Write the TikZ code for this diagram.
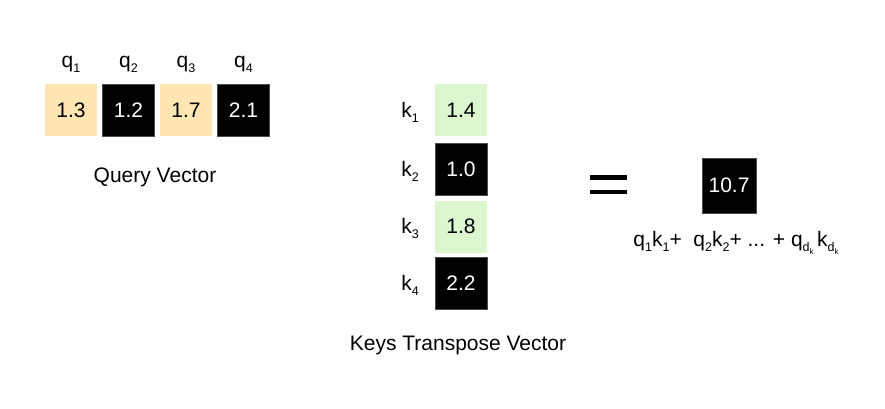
\documentclass[tikz,border=0pt]{standalone}
\usepackage{fontspec}
\setmainfont{Liberation Sans}
\definecolor{peach}{HTML}{FFE6B3}
\definecolor{mint}{HTML}{DCF7D0}
\newcommand{\sbs}[1]{\raisebox{-0.45ex}{\fontsize{12.5}{12.5}\selectfont #1}}
\newcommand{\ssbs}[1]{\raisebox{-0.35ex}{\fontsize{8}{8}\selectfont #1}}
\tikzset{
  cell/.style={minimum width=52pt, minimum height=52pt, inner sep=0pt, font=\fontsize{21}{21}\selectfont},
  pcell/.style={cell, fill=peach},
  gcell/.style={cell, fill=mint},
  bcell/.style={cell, fill=black, draw=black!70, line width=0.6pt, text=white},
  lab/.style={font=\fontsize{21}{21}\selectfont, inner sep=0pt},
}
\begin{document}
\begin{tikzpicture}[x=1pt,y=-1pt]
\useasboundingbox (0,0) rectangle (885,408);
% query vector
\node[pcell] (q1) at (71,110) {1.3};
\node[bcell] (q2) at (128.5,110) {1.2};
\node[pcell] (q3) at (186,110) {1.7};
\node[bcell] (q4) at (243.5,110) {2.1};
\node[lab] (lq1) at (71,64) {q\sbs{1}};
\node[lab] (lq2) at (128.5,64) {q\sbs{2}};
\node[lab] (lq3) at (186,64) {q\sbs{3}};
\node[lab] (lq4) at (243.5,64) {q\sbs{4}};
\node[lab] (qv) at (155,177) {Query Vector};
% keys
\node[gcell] (k1) at (461,110) {1.4};
\node[bcell] (k2) at (461,169.5) {1.0};
\node[gcell] (k3) at (461,226.5) {1.8};
\node[bcell] (k4) at (461,283.5) {2.2};
\node[lab] (lk1) at (410,112) {k\sbs{1}};
\node[lab] (lk2) at (410,171) {k\sbs{2}};
\node[lab] (lk3) at (410,228) {k\sbs{3}};
\node[lab] (lk4) at (410,285) {k\sbs{4}};
\node[lab] (kv) at (458,345) {Keys Transpose Vector};
% equals
\fill (590,175) rectangle (627,179.5);
\fill (590,189.5) rectangle (627,194);
% result
\node[bcell, minimum width=54pt, minimum height=55pt] (r) at (729,185.5) {10.7};
\node[lab] (f) at (736,243) {q\sbs{1}k\sbs{1}+\ \ q\sbs{2}k\sbs{2}+ ... + q\sbs{d\ssbs{k}}\,k\sbs{d\ssbs{k}}};
\end{tikzpicture}
\end{document}
